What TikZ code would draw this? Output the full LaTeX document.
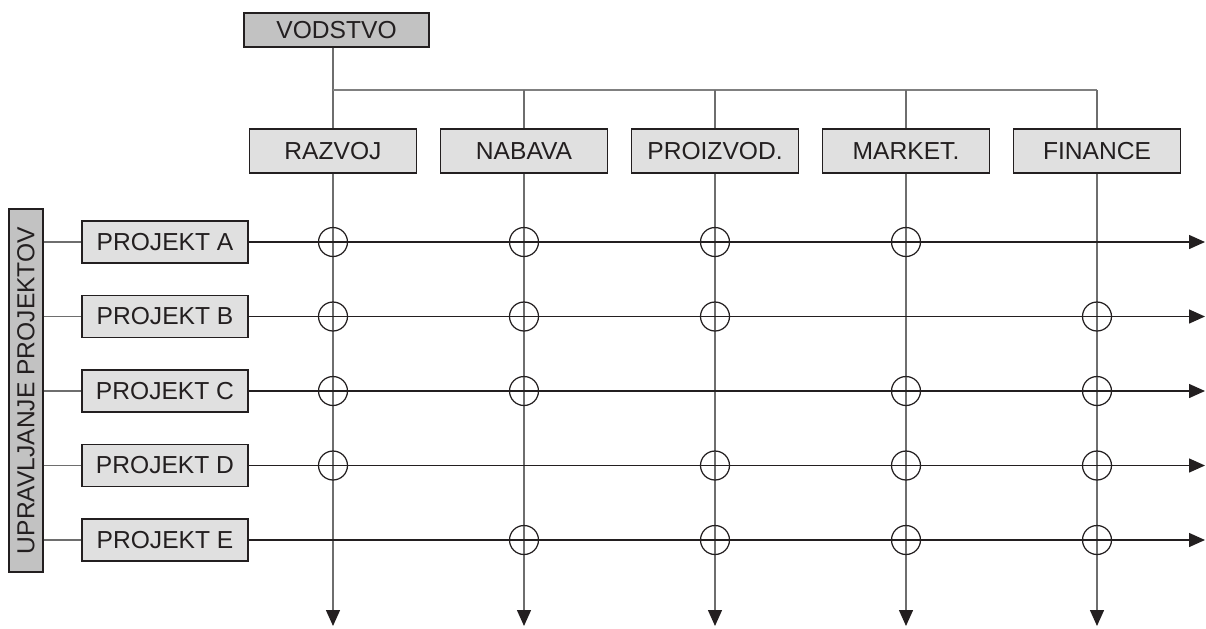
\documentclass[tikz,border=0pt]{standalone}
\usepackage{fontspec}
\setmainfont{Liberation Sans}
\usetikzlibrary{arrows.meta,positioning}
\definecolor{Ink}{HTML}{231F20}
\definecolor{Wire}{HTML}{6E6E6E}
\definecolor{Bus}{HTML}{808080}
\definecolor{BoxLight}{HTML}{E0E0E0}
\definecolor{BoxDark}{HTML}{C2C2C2}

\begin{document}
\begin{tikzpicture}[
  box/.style={draw=Ink,line width=0.5pt,fill=BoxLight,text=Ink,minimum width=1.67cm,minimum height=0.44cm,inner sep=0pt,font=\fontsize{7}{8}\selectfont},
  headbox/.style={box,fill=BoxDark},
  wire/.style={draw=Wire,line width=0.4pt},
  flow/.style={line width=0.4pt,-{Triangle[length=0.16cm,width=0.14cm,color=Ink]}},
  cross/.style={draw=Ink,line width=0.35pt}
]
  \useasboundingbox (0,0) rectangle (12.06,6.28);

  % vodstvo and departments
  \node[headbox,minimum width=1.85cm,minimum height=0.34cm] (vodstvo) at (3.365,5.98) {VODSTVO};
  \coordinate (bus) at (3.33,5.38);
  \foreach \i/\name/\txt in {0/razvoj/RAZVOJ,1/nabava/NABAVA,2/proizvod/PROIZVOD.,3/market/MARKET.,4/finance/FINANCE}{
    \node[box] (\name) at (3.33+1.91*\i,4.77) {\txt};
    \coordinate (\name-end) at (3.33+1.91*\i,0.02);
  }
  \draw[wire] (vodstvo.south -| razvoj) -- (razvoj.north);
  \draw[draw=Bus,line width=0.4pt] (razvoj |- bus) -- (finance |- bus);
  \foreach \name in {nabava,proizvod,market,finance}{
    \draw[wire] (\name |- bus) -- (\name.north);
  }
  \foreach \name in {razvoj,nabava,proizvod,market,finance}{
    \draw[flow,draw=Wire] (\name.south) -- (\name-end);
  }

  % projects
  \node[headbox,rotate=90,minimum width=3.63cm,minimum height=0.34cm] (upravljanje) at (0.26,2.375) {UPRAVLJANJE PROJEKTOV};
  \foreach \j/\name/\txt in {0/pa/PROJEKT A,1/pb/PROJEKT B,2/pc/PROJEKT C,3/pd/PROJEKT D,4/pe/PROJEKT E}{
    \node[box,minimum width=1.66cm,minimum height=0.42cm] (\name) at (1.65,3.86-0.745*\j) {\txt};
    \coordinate (\name-end) at (12.05,3.86-0.745*\j);
    \draw[wire] (upravljanje.south |- \name) -- (\name.west);
    \draw[flow,draw=Ink] (\name.east) -- (\name-end);
  }

  % participation
  \foreach \p/\d in {pa/razvoj,pa/nabava,pa/proizvod,pa/market,
                     pb/razvoj,pb/nabava,pb/proizvod,pb/finance,
                     pc/razvoj,pc/nabava,pc/market,pc/finance,
                     pd/razvoj,pd/proizvod,pd/market,pd/finance,
                     pe/nabava,pe/proizvod,pe/market,pe/finance}{
    \draw[cross] (\d |- \p) circle (0.145);
  }
\end{tikzpicture}
\end{document}
